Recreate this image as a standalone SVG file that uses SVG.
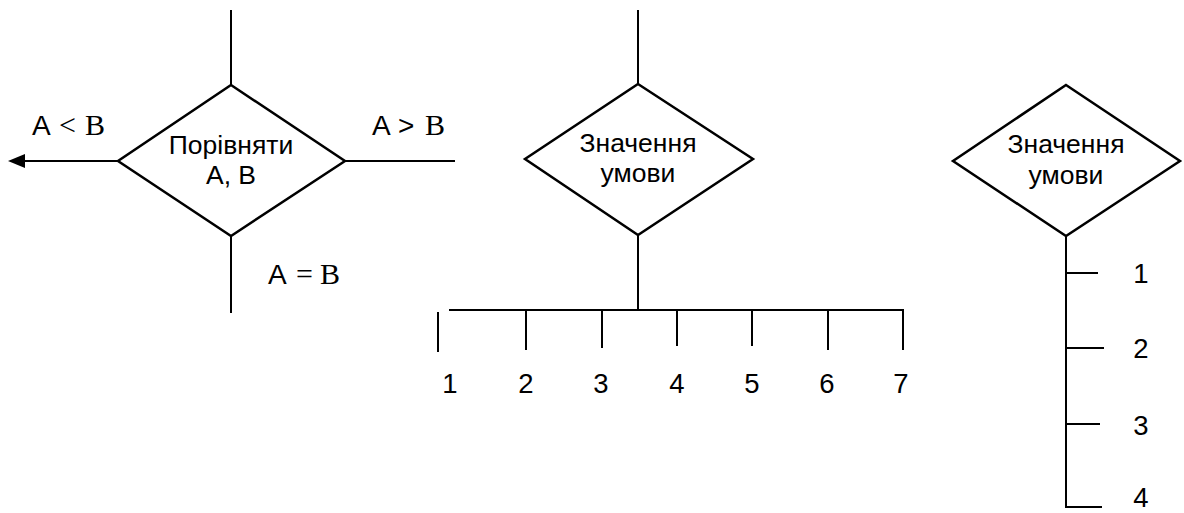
<svg xmlns="http://www.w3.org/2000/svg" width="1184" height="513" viewBox="0 0 1184 513">
  <style>
    .ln { stroke: #000; stroke-width: 2; fill: none; }
    .dm { stroke: #000; stroke-width: 2.5; fill: #fff; stroke-linejoin: miter; }
    .t { font-family: "Liberation Sans", Arial, sans-serif; font-size: 26.5px; fill: #000; text-anchor: middle; }
    .lbl { font-family: "Liberation Sans", Arial, sans-serif; font-size: 28px; fill: #000; }
    .sf { font-family: "Liberation Serif", "Times New Roman", serif; font-size: 30px; }
    .num { font-family: "Liberation Sans", Arial, sans-serif; font-size: 27.5px; fill: #000; text-anchor: middle; }
  </style>
  <rect width="1184" height="513" fill="#fff"/>

  <!-- connectors -->
  <g id="connectors">
    <!-- comparison block -->
    <line class="ln" x1="231" y1="10" x2="231" y2="85"/>
    <line class="ln" x1="231" y1="236" x2="231" y2="313"/>
    <line class="ln" x1="345" y1="161" x2="455" y2="161"/>
    <line class="ln" x1="118" y1="161" x2="22" y2="161"/>
    <polygon points="8,161 25,154 25,168" fill="#000"/>

    <!-- horizontal selector -->
    <line class="ln" x1="638" y1="10" x2="638" y2="84"/>
    <line class="ln" x1="638" y1="235" x2="638" y2="310"/>
    <line class="ln" x1="449" y1="310" x2="904" y2="310"/>
    <line class="ln" x1="438" y1="312" x2="438" y2="352"/>
    <line class="ln" x1="526" y1="310" x2="526" y2="350"/>
    <line class="ln" x1="602" y1="310" x2="602" y2="348"/>
    <line class="ln" x1="677" y1="310" x2="677" y2="346"/>
    <line class="ln" x1="752" y1="310" x2="752" y2="346"/>
    <line class="ln" x1="828" y1="310" x2="828" y2="350"/>
    <line class="ln" x1="903" y1="310" x2="903" y2="350"/>

    <!-- vertical selector -->
    <line class="ln" x1="1066" y1="236" x2="1066" y2="508"/>
    <line class="ln" x1="1066" y1="273" x2="1098" y2="273"/>
    <line class="ln" x1="1066" y1="348" x2="1104" y2="348"/>
    <line class="ln" x1="1066" y1="424" x2="1100" y2="424"/>
    <line class="ln" x1="1065" y1="507" x2="1102" y2="507"/>
  </g>

  <g id="compare">
    <polygon class="dm" points="231,85 345,161 231,236 118,161"/>
    <text class="t" x="231" y="154">Порівняти</text>
    <text class="t" x="231" y="184">A, B</text>
  </g>

  <g id="compare-labels">
    <text class="lbl" y="135"><tspan x="32">A</tspan><tspan class="sf" x="59">&lt;</tspan><tspan class="sf" x="85">B</tspan></text>
    <text class="lbl" y="135"><tspan x="372">A</tspan><tspan x="398">&gt;</tspan><tspan class="sf" x="425">B</tspan></text>
    <text class="lbl" y="284"><tspan x="268">A</tspan><tspan class="sf" x="296">=</tspan><tspan class="sf" x="320">B</tspan></text>
  </g>

  <g id="switch-h">
    <polygon class="dm" points="638,84 753,159 638,235 525,159"/>
    <text class="t" x="638" y="152">Значення</text>
    <text class="t" x="638" y="182">умови</text>
  </g>

  <g id="switch-h-labels">
    <text class="num" x="450" y="393">1</text>
    <text class="num" x="526" y="393">2</text>
    <text class="num" x="601" y="393">3</text>
    <text class="num" x="677" y="393">4</text>
    <text class="num" x="752" y="393">5</text>
    <text class="num" x="827" y="393">6</text>
    <text class="num" x="901" y="393">7</text>
  </g>

  <g id="switch-v">
    <polygon class="dm" points="1066,85 1180,161 1066,236 953,161"/>
    <text class="t" x="1066" y="153">Значення</text>
    <text class="t" x="1066" y="184">умови</text>
  </g>

  <g id="switch-v-labels">
    <text class="num" x="1141" y="283">1</text>
    <text class="num" x="1141" y="358">2</text>
    <text class="num" x="1141" y="435">3</text>
    <text class="num" x="1141" y="507">4</text>
  </g>
</svg>
